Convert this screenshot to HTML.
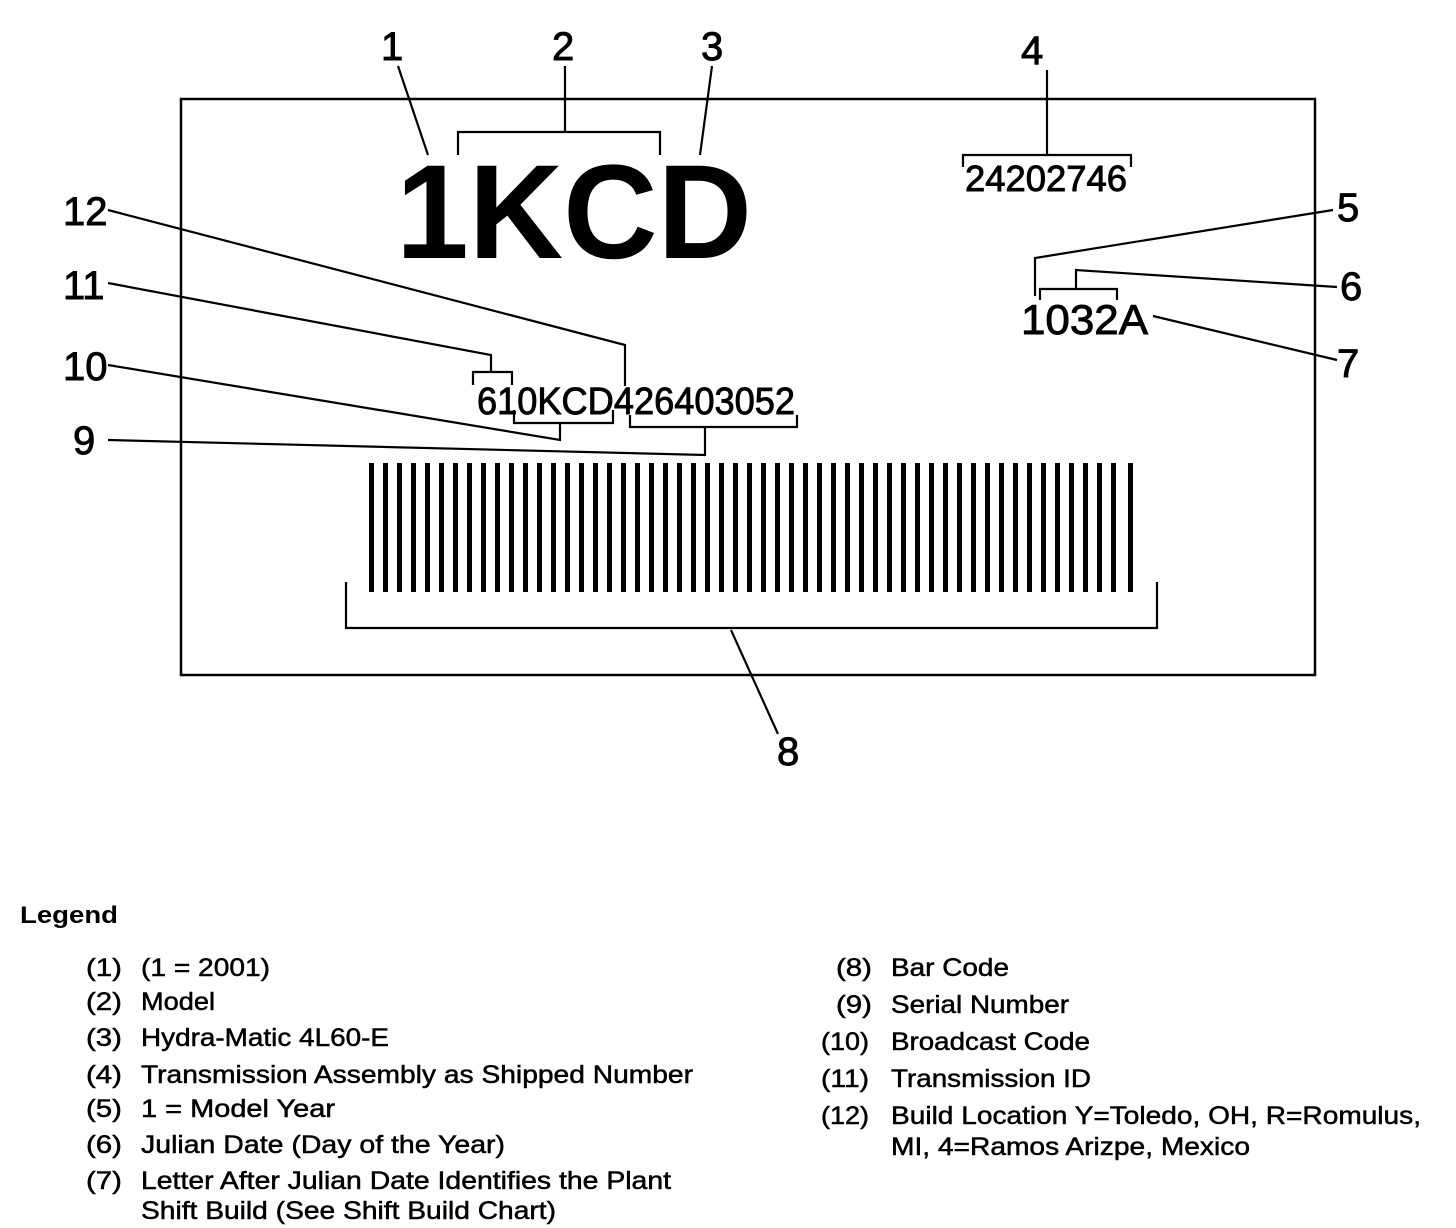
<!DOCTYPE html>
<html><head><meta charset="utf-8"><style>
html,body{margin:0;padding:0;background:#fff}
svg{display:block}
text{font-family:"Liberation Sans",Arial,sans-serif;fill:#000}
.s{stroke:#000;stroke-width:0.9}
.l{stroke:#000;stroke-width:0.5}
</style></head><body>
<svg width="1456" height="1228" viewBox="0 0 1456 1228" xmlns="http://www.w3.org/2000/svg">
<rect x="181" y="99" width="1134" height="576" fill="none" stroke="#000" stroke-width="2.5"/>
<g font-size="40" class="s">
<text x="381" y="60">1</text>
<text x="552" y="60">2</text>
<text x="701" y="60">3</text>
<text x="1021" y="64">4</text>
<text x="1337" y="221">5</text>
<text x="1340" y="300">6</text>
<text x="1337" y="377">7</text>
<text x="777" y="765">8</text>
<text x="73" y="454">9</text>
<text x="63" y="380">10</text>
<text x="63" y="299">11</text>
<text x="63" y="225">12</text>
</g>
<text x="396" y="258" font-size="134" font-weight="bold" textLength="356" lengthAdjust="spacingAndGlyphs">1KCD</text>
<text class="s" x="965" y="191" font-size="36" textLength="162" lengthAdjust="spacingAndGlyphs">24202746</text>
<text class="s" x="1021" y="334" font-size="42" textLength="127" lengthAdjust="spacingAndGlyphs">1032A</text>
<text class="s" x="477" y="414" font-size="38" textLength="318" lengthAdjust="spacingAndGlyphs">610KCD426403052</text>
<g fill="none" stroke="#000" stroke-width="2.2">
<path d="M398 66 L428 155"/>
<path d="M565 66 V132 M458 155 V132 H660 V155"/>
<path d="M712 66 L700 155"/>
<path d="M1047 70 V155 M963 167 V155 H1131 V167"/>
<path d="M1333 210 L1035 258 V296"/>
<path d="M1337 287 L1076 270 V289 M1040 300 V289 H1117 V300"/>
<path d="M1153 316 L1337 360"/>
<path d="M108 210 L625 345 V386"/>
<path d="M108 283 L491 355 V372 M473 385 V372 H512 V385"/>
<path d="M108 365 L560 440 V423 M514 410 V423 H613 V410"/>
<path d="M108 440 L705 455 V427 M630 415 V427 H797 V415"/>
<path d="M346 582 V628 H1157 V582"/>
<path d="M731 630 L778 734"/>
</g>
<g>
<rect x="369" y="463" width="5" height="129"/><rect x="383" y="463" width="5" height="129"/><rect x="397" y="463" width="5" height="129"/><rect x="411" y="463" width="5" height="129"/><rect x="425" y="463" width="5" height="129"/><rect x="439" y="463" width="5" height="129"/><rect x="453" y="463" width="5" height="129"/><rect x="467" y="463" width="5" height="129"/><rect x="481" y="463" width="5" height="129"/><rect x="495" y="463" width="5" height="129"/><rect x="509" y="463" width="5" height="129"/><rect x="523" y="463" width="5" height="129"/><rect x="537" y="463" width="5" height="129"/><rect x="551" y="463" width="5" height="129"/><rect x="565" y="463" width="5" height="129"/><rect x="579" y="463" width="5" height="129"/><rect x="593" y="463" width="5" height="129"/><rect x="607" y="463" width="5" height="129"/><rect x="621" y="463" width="5" height="129"/><rect x="635" y="463" width="5" height="129"/><rect x="649" y="463" width="5" height="129"/><rect x="663" y="463" width="5" height="129"/><rect x="677" y="463" width="5" height="129"/><rect x="691" y="463" width="5" height="129"/><rect x="705" y="463" width="5" height="129"/><rect x="719" y="463" width="5" height="129"/><rect x="733" y="463" width="5" height="129"/><rect x="747" y="463" width="5" height="129"/><rect x="761" y="463" width="5" height="129"/><rect x="775" y="463" width="5" height="129"/><rect x="789" y="463" width="5" height="129"/><rect x="803" y="463" width="5" height="129"/><rect x="817" y="463" width="5" height="129"/><rect x="831" y="463" width="5" height="129"/><rect x="845" y="463" width="5" height="129"/><rect x="859" y="463" width="5" height="129"/><rect x="873" y="463" width="5" height="129"/><rect x="887" y="463" width="5" height="129"/><rect x="901" y="463" width="5" height="129"/><rect x="915" y="463" width="5" height="129"/><rect x="929" y="463" width="5" height="129"/><rect x="943" y="463" width="5" height="129"/><rect x="957" y="463" width="5" height="129"/><rect x="971" y="463" width="5" height="129"/><rect x="985" y="463" width="5" height="129"/><rect x="999" y="463" width="5" height="129"/><rect x="1013" y="463" width="5" height="129"/><rect x="1027" y="463" width="5" height="129"/><rect x="1041" y="463" width="5" height="129"/><rect x="1055" y="463" width="5" height="129"/><rect x="1069" y="463" width="5" height="129"/><rect x="1083" y="463" width="5" height="129"/><rect x="1097" y="463" width="5" height="129"/><rect x="1111" y="463" width="5" height="129"/><rect x="1128" y="463" width="5" height="129"/>
</g>
<text x="20" y="923" font-size="24" font-weight="bold" textLength="98" lengthAdjust="spacingAndGlyphs">Legend</text>
<g font-size="25" class="l">
<text x="86" y="976" textLength="36" lengthAdjust="spacingAndGlyphs">(1)</text><text x="141" y="976" textLength="129" lengthAdjust="spacingAndGlyphs">(1 = 2001)</text>
<text x="86" y="1010" textLength="36" lengthAdjust="spacingAndGlyphs">(2)</text><text x="141" y="1010" textLength="74" lengthAdjust="spacingAndGlyphs">Model</text>
<text x="86" y="1046" textLength="36" lengthAdjust="spacingAndGlyphs">(3)</text><text x="141" y="1046" textLength="248" lengthAdjust="spacingAndGlyphs">Hydra-Matic 4L60-E</text>
<text x="86" y="1083" textLength="36" lengthAdjust="spacingAndGlyphs">(4)</text><text x="141" y="1083" textLength="552" lengthAdjust="spacingAndGlyphs">Transmission Assembly as Shipped Number</text>
<text x="86" y="1117" textLength="36" lengthAdjust="spacingAndGlyphs">(5)</text><text x="141" y="1117" textLength="194" lengthAdjust="spacingAndGlyphs">1 = Model Year</text>
<text x="86" y="1153" textLength="36" lengthAdjust="spacingAndGlyphs">(6)</text><text x="141" y="1153" textLength="364" lengthAdjust="spacingAndGlyphs">Julian Date (Day of the Year)</text>
<text x="86" y="1189" textLength="36" lengthAdjust="spacingAndGlyphs">(7)</text><text x="141" y="1189" textLength="530" lengthAdjust="spacingAndGlyphs">Letter After Julian Date Identifies the Plant</text>
<text x="141" y="1219" textLength="415" lengthAdjust="spacingAndGlyphs">Shift Build (See Shift Build Chart)</text>
<text x="836" y="976" textLength="36" lengthAdjust="spacingAndGlyphs">(8)</text><text x="891" y="976" textLength="118" lengthAdjust="spacingAndGlyphs">Bar Code</text>
<text x="836" y="1013" textLength="36" lengthAdjust="spacingAndGlyphs">(9)</text><text x="891" y="1013" textLength="178" lengthAdjust="spacingAndGlyphs">Serial Number</text>
<text x="821" y="1050" textLength="48" lengthAdjust="spacingAndGlyphs">(10)</text><text x="891" y="1050" textLength="199" lengthAdjust="spacingAndGlyphs">Broadcast Code</text>
<text x="821" y="1087" textLength="48" lengthAdjust="spacingAndGlyphs">(11)</text><text x="891" y="1087" textLength="200" lengthAdjust="spacingAndGlyphs">Transmission ID</text>
<text x="821" y="1124" textLength="48" lengthAdjust="spacingAndGlyphs">(12)</text><text x="891" y="1124" textLength="530" lengthAdjust="spacingAndGlyphs">Build Location Y=Toledo, OH, R=Romulus,</text>
<text x="891" y="1155" textLength="359" lengthAdjust="spacingAndGlyphs">MI, 4=Ramos Arizpe, Mexico</text>
</g>
</svg>
</body></html>
